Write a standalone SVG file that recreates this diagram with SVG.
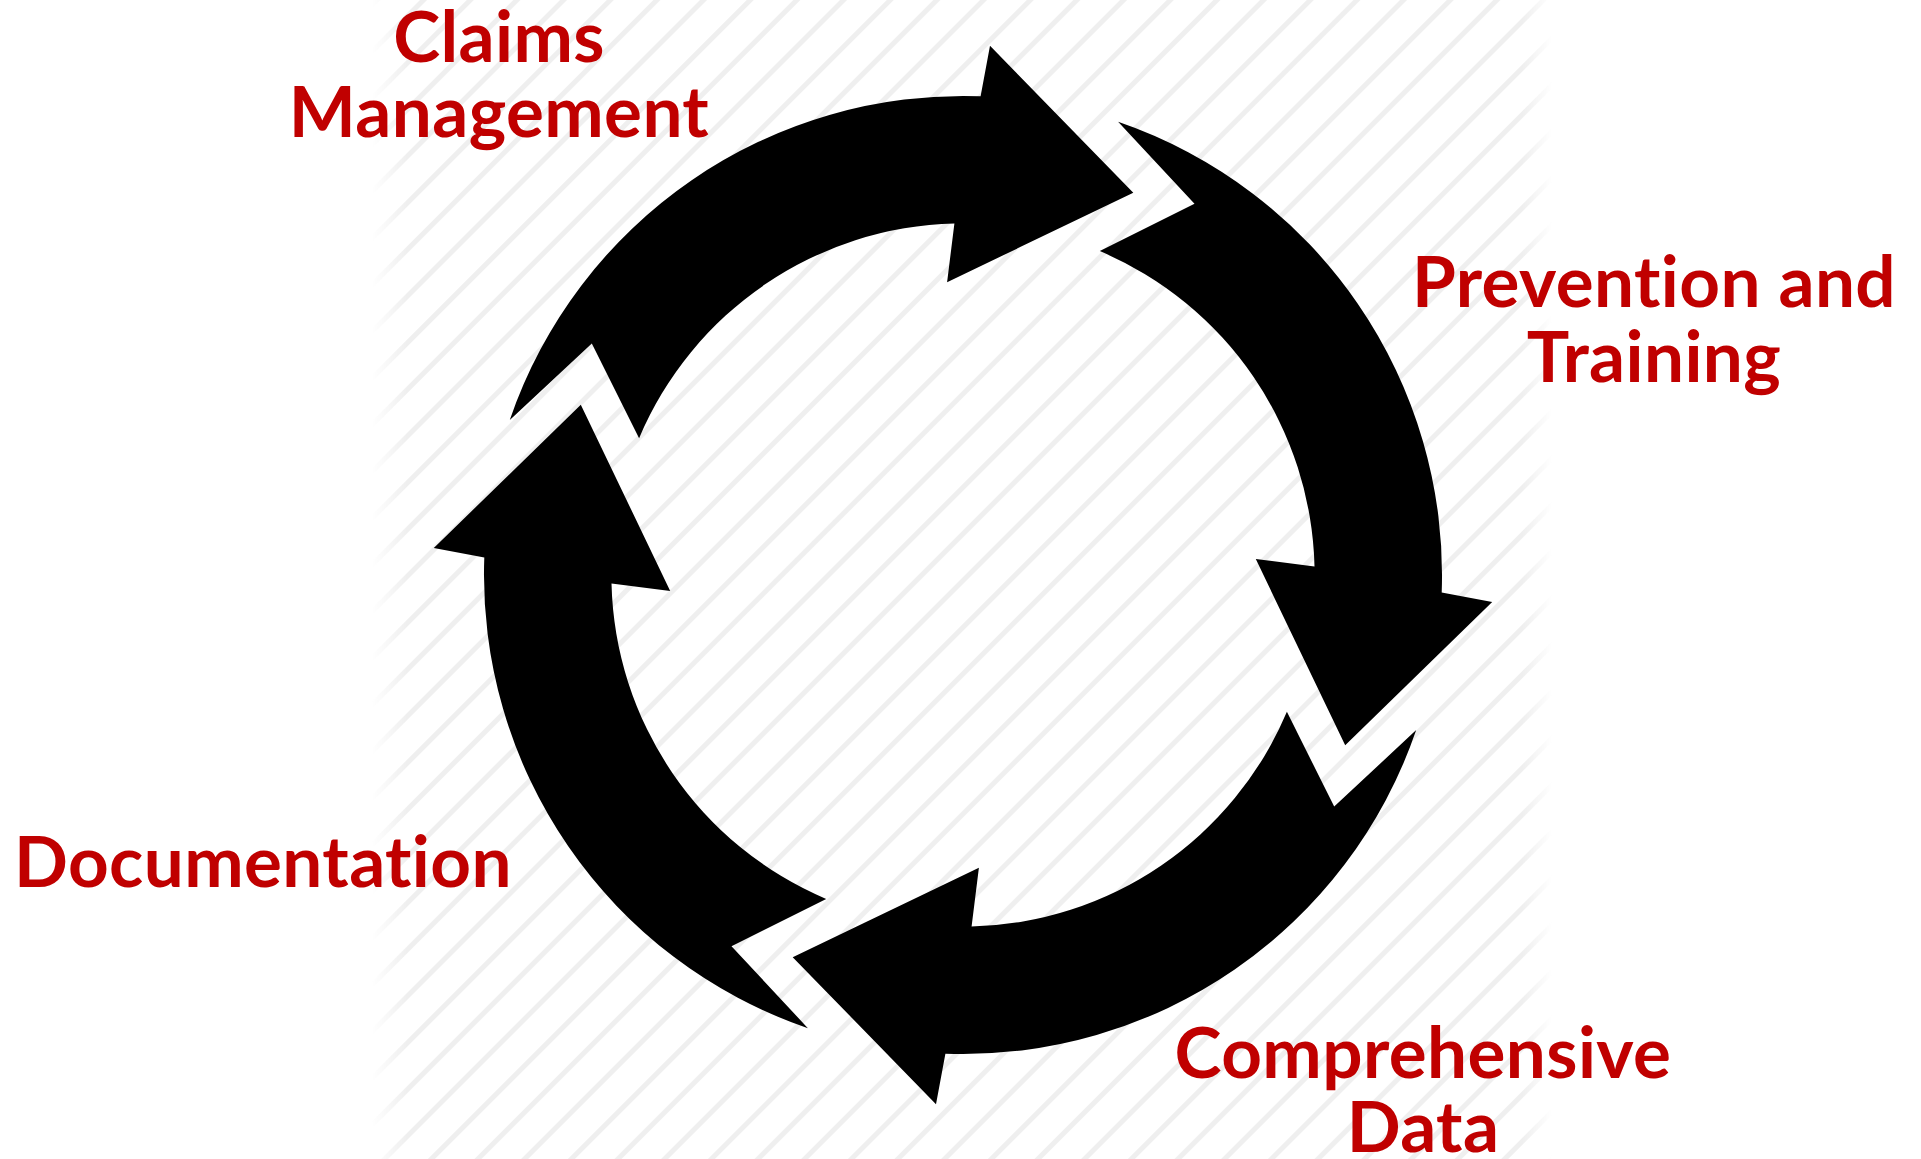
<svg xmlns="http://www.w3.org/2000/svg" xmlns:xlink="http://www.w3.org/1999/xlink" width="1921" height="1159" viewBox="0 0 1921 1159">
  <style>
    .label { font-family: Lato, "Open Sans", "Liberation Sans", sans-serif; font-weight: 700; font-size: 71px; fill: #C00000; font-variant-ligatures: none; font-feature-settings: "liga" 0, "clig" 0; letter-spacing: 0.4px; }
    .arrow { fill: #000000; }
  </style>
  <defs>
    <pattern id="stripes" patternUnits="userSpaceOnUse" width="33" height="33" patternTransform="rotate(45)">
      <rect x="0" y="0" width="5" height="33" fill="#efefef"/>
    </pattern>
    <linearGradient id="fadeX" gradientUnits="userSpaceOnUse" x1="372" y1="0" x2="1552" y2="0">
      <stop offset="0" stop-color="#fff" stop-opacity="0"/>
      <stop offset="0.03" stop-color="#fff" stop-opacity="1"/>
      <stop offset="0.975" stop-color="#fff" stop-opacity="1"/>
      <stop offset="1" stop-color="#fff" stop-opacity="0"/>
    </linearGradient>
    <mask id="fadeMask" maskUnits="userSpaceOnUse" x="0" y="0" width="1921" height="1159">
      <rect x="372" y="0" width="1180" height="1159" fill="url(#fadeX)"/>
    </mask>
    <path id="arrowShape" d="M -453.2 -155.1 A 479 479 0 0 1 17.6 -478.7 L 27 -529.2 L 170.3 -382.2 L -15.9 -292.8 L -8.6 -351.5 A 351.6 351.6 0 0 0 -323.9 -136.8 L -371.2 -231.5 Z"/>
  </defs>

  <rect x="0" y="0" width="1921" height="1159" fill="#ffffff"/>
  <rect x="372" y="0" width="1180" height="1159" fill="url(#stripes)" mask="url(#fadeMask)"/>

  <g id="connectors">
    <use xlink:href="#arrowShape" class="arrow" transform="translate(963 575)"/>
    <use xlink:href="#arrowShape" class="arrow" transform="translate(963 575) rotate(90)"/>
    <use xlink:href="#arrowShape" class="arrow" transform="translate(963 575) rotate(180)"/>
    <use xlink:href="#arrowShape" class="arrow" transform="translate(963 575) rotate(270)"/>
  </g>

  <g id="node-claims-management">
    <text class="label" x="499" y="62" text-anchor="middle">Claims</text>
    <text class="label" x="499" y="137" text-anchor="middle">Management</text>
  </g>
  <g id="node-prevention-training">
    <text class="label" x="1654" y="307" text-anchor="middle">Prevention and</text>
    <text class="label" x="1654" y="382" text-anchor="middle">Training</text>
  </g>
  <g id="node-comprehensive-data">
    <text class="label" x="1423" y="1078" text-anchor="middle">Comprehensive</text>
    <text class="label" x="1423" y="1152" text-anchor="middle">Data</text>
  </g>
  <g id="node-documentation">
    <text class="label" x="14" y="887">Documentation</text>
  </g>
</svg>
